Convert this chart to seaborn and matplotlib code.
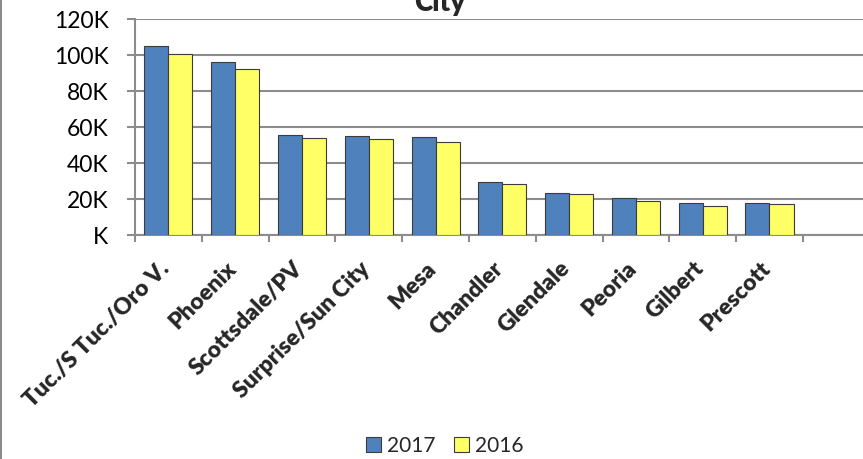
import matplotlib
matplotlib.use("Agg")
import matplotlib.pyplot as plt
import matplotlib.transforms as mtransforms
from matplotlib.patches import Patch
from matplotlib.lines import Line2D
import seaborn as sns
import pandas as pd

# ---- data ----
cities = ["Tuc./S Tuc./Oro V.", "Phoenix", "Scottsdale/PV", "Surprise/Sun City", "Mesa",
          "Chandler", "Glendale", "Peoria", "Gilbert", "Prescott"]
values_2017 = [105000, 96000, 55500, 55200, 54300, 29600, 23300, 20400, 17900, 17900]
values_2016 = [100700, 92000, 53900, 53100, 51500, 28500, 22600, 18900, 16300, 17100]
series = ["2017", "2016"]
y_ticks = [0, 20000, 40000, 60000, 80000, 100000, 120000]
y_tick_labels = ["K", "20K", "40K", "60K", "80K", "100K", "120K"]
title = "City"

colors = {"2017": "#4F81BD", "2016": "#FFFF66"}

sns.set_theme(style="white")
plt.rcParams["font.family"] = ["Lato", "DejaVu Sans"]

df = pd.DataFrame({
    "City": cities * 2,
    "Series": [series[0]] * len(cities) + [series[1]] * len(cities),
    "Value": values_2017 + values_2016,
})

W, H = 863, 459
fig = plt.figure(figsize=(W / 100, H / 100), dpi=100)
ax = fig.add_axes([135 / W, 1 - 235 / H, 728 / W, 216 / H])

sns.barplot(data=df, x="City", y="Value", hue="Series", order=cities, hue_order=series,
            palette=colors, saturation=1, width=0.72, gap=0, errorbar=None,
            edgecolor="#3c3c3c", linewidth=0.8, ax=ax, legend=False, zorder=3)

ax.set_ylim(0, 120000)
ax.set_xlim(-0.5, 10.4)
ax.set_yticks(y_ticks)
ax.set_yticklabels(y_tick_labels, fontsize=16.5, color="black")
ax.set_xlabel("")
ax.set_ylabel("")

ax.yaxis.grid(True, color="#8c8c8c", linewidth=1.5)
ax.xaxis.grid(False)
ax.set_axisbelow(True)
for s in ["top", "right"]:
    ax.spines[s].set_visible(False)
for s in ["left", "bottom"]:
    ax.spines[s].set_color("#8c8c8c")
    ax.spines[s].set_linewidth(1.5)

ax.tick_params(axis="y", which="major", direction="out", length=6, width=1.5,
               color="#8c8c8c", left=True, pad=13)
ax.set_xticks(range(len(cities)))
ax.set_xticks([i - 0.5 for i in range(len(cities) + 1)], minor=True)
ax.tick_params(axis="x", which="major", length=0, bottom=False)
ax.tick_params(axis="x", which="minor", direction="out", length=5, width=1.5,
               color="#8c8c8c", bottom=True)

ax.set_xticklabels(cities, rotation=45, ha="right", va="top", rotation_mode="anchor",
                   fontsize=16.5, fontweight="heavy")
offset = mtransforms.ScaledTranslation(-10 / 100, -18 / 100, fig.dpi_scale_trans)
for lbl in ax.get_xticklabels():
    lbl.set_transform(lbl.get_transform() + offset)

fig.text(440 / W, 1 - 11 / H, title, ha="center", va="baseline",
         fontsize=20, fontweight="heavy")

handles = [Patch(facecolor=colors[s], edgecolor="#3c3c3c", linewidth=0.8) for s in series]
fig.legend(handles, series, loc="center", bbox_to_anchor=(445 / W, 1 - 446 / H), ncol=2,
           frameon=False, fontsize=15, handlelength=0.7, handleheight=0.7,
           handletextpad=0.3, columnspacing=0.9)

fig.add_artist(Line2D([0.001, 0.001], [0, 1], transform=fig.transFigure,
                      color="#8c8c8c", linewidth=1.5))

fig.savefig("out.png", dpi=100)
